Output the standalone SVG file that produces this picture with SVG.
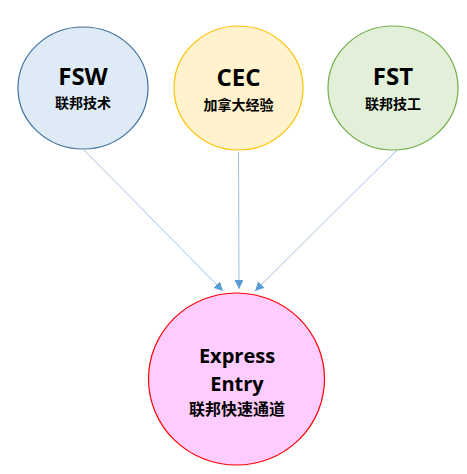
<svg xmlns="http://www.w3.org/2000/svg" width="467" height="474" viewBox="0 0 467 474">
<style>
.t{font-family:"Open Sans","Liberation Sans","Noto Sans CJK SC",sans-serif;font-weight:bold;fill:#000;text-anchor:middle}
.big{font-size:24px}
.cn{font-family:"Noto Sans CJK SC",sans-serif;font-weight:bold;font-size:14px;fill:#000;text-anchor:middle}
.ln{stroke:#9DC3E6;stroke-width:1;fill:none;marker-end:url(#ah)}
</style>
<defs>
<marker id="ah" viewBox="0 0 10 10" refX="10" refY="5" markerWidth="9" markerHeight="9" markerUnits="userSpaceOnUse" orient="auto">
<path d="M0,0 L10,5 L0,10 z" fill="#5B9BD5"/>
</marker>
</defs>
<rect width="467" height="474" fill="#fff"/>
<g id="connectors">
<line class="ln" x1="84" y1="150" x2="223" y2="291"/>
<line class="ln" x1="238.5" y1="152" x2="239" y2="289"/>
<line class="ln" x1="397" y1="150" x2="255" y2="291"/>
</g>
<g id="fsw">
<ellipse cx="83" cy="88" rx="65" ry="61" fill="#DEEBF7" stroke="#41719C" stroke-width="1.2"/>
<text class="t big" x="83" y="85">FSW</text>
<text class="cn" x="83" y="108">联邦技术</text>
</g>
<g id="cec">
<ellipse cx="238.5" cy="88" rx="64.5" ry="62" fill="#FFF2CC" stroke="#FFC000" stroke-width="1.2"/>
<text class="t big" x="238.5" y="86">CEC</text>
<text class="cn" x="238.5" y="110">加拿大经验</text>
</g>
<g id="fst">
<ellipse cx="393" cy="88" rx="65" ry="62" fill="#E2F0D9" stroke="#70AD47" stroke-width="1.2"/>
<text class="t big" x="393" y="85">FST</text>
<text class="cn" x="393" y="109">联邦技工</text>
</g>
<g id="express-entry">
<ellipse cx="236.5" cy="379" rx="88" ry="86" fill="#FFCCFF" stroke="#FF0000" stroke-width="1.2"/>
<text class="t" style="font-size:20px" x="237" y="363">Express</text>
<text class="t" style="font-size:20px" x="237" y="391">Entry</text>
<text class="cn" style="font-size:16px" x="237" y="415">联邦快速通道</text>
</g>
</svg>
